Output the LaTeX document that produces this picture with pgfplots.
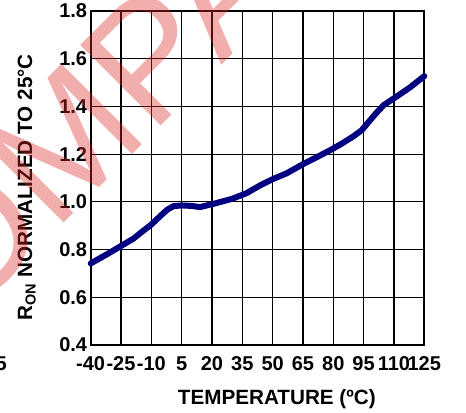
\documentclass[border=0pt]{standalone}
\usepackage{fontspec}
\setmainfont{Liberation Sans}
\usepackage{pgfplots}
\pgfplotsset{compat=1.18}
\definecolor{curve}{RGB}{0,0,128}
\definecolor{wm}{RGB}{220,40,40}
\begin{document}
\begin{tikzpicture}
\begin{axis}[
  scale only axis,
  width=250.2pt, height=250.5pt,
  xmin=-40, xmax=125, ymin=0.4, ymax=1.8,
  xtick={-40,-25,-10,5,20,35,50,65,80,95,110,125},
  xticklabels={-40,-25,-10,5,20,35,50,65,80,95,110,125},
  ytick={0.4,0.6,0.8,1.0,1.2,1.4,1.6,1.8},
  yticklabels={0.4,0.6,0.8,1.0,1.2,1.4,1.6,1.8},
  major tick length=0pt,
  grid=major,
  major grid style={black, line width=0.9pt},
  axis line style={black, line width=1.5pt},
  tick label style={font=\fontsize{15}{18}\selectfont\bfseries},
  yticklabel style={inner sep=0pt, xshift=-2.5pt},
  xticklabel style={inner sep=0pt, yshift=-8.5pt, anchor=north},
  xlabel={TEMPERATURE (ºC)},
  ylabel={R\textsubscript{ON} NORMALIZED TO 25°C},
  label style={font=\fontsize{15.5}{18}\selectfont\bfseries},
  xlabel style={at={(axis description cs:0.558,-0.161)}, anchor=center, inner sep=0pt},
  ylabel style={at={(axis description cs:-0.192,0.4716)}, anchor=center, inner sep=0pt},
  axis on top=false,
  clip=false,
]
\addplot[curve, line width=4.5pt, line join=round, line cap=round] coordinates {
(-40,0.742) (-32,0.78) (-25,0.815) (-19,0.845) (-15.6,0.868) (-10,0.905)
(-5,0.945) (-2,0.968) (1,0.982) (5,0.985) (10,0.983) (14,0.978) (20,0.99)
(30,1.013) (37,1.036) (44,1.07) (50,1.095) (57,1.12) (65,1.158) (72,1.188)
(79,1.219) (84,1.243) (90,1.275) (94,1.300) (97,1.330) (101,1.370)
(105,1.406) (110,1.434) (118,1.48) (125,1.527)
};
\end{axis}
\node[overlay, rotate=45, anchor=base west, inner sep=0pt, text=wm, text opacity=0.38,
  font=\fontsize{124}{124}\selectfont] at (-158.8pt,-47.25pt) {COMPANY CONFIDENTIAL};
\node[anchor=north east, inner sep=0pt, font=\fontsize{15}{18}\selectfont\bfseries]
  at (-62.8pt,-8.5pt) {5};
\pgfresetboundingbox
\path[use as bounding box] (-68.0pt,-50.25pt) rectangle (281.5pt,258.75pt);
\end{tikzpicture}
\end{document}
